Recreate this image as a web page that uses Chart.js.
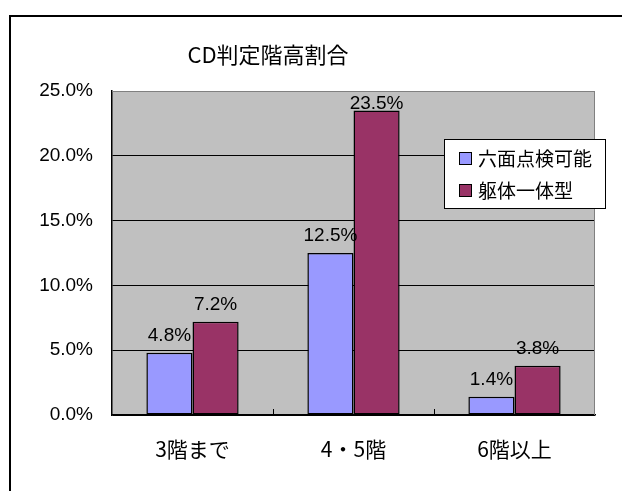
<!DOCTYPE html>
<html>
<head>
<meta charset="utf-8">
<script src="https://cdn.jsdelivr.net/npm/chart.js@4.4.1/dist/chart.umd.min.js"></script>
<style>
  html, body { margin: 0; padding: 0; background: #fff; overflow: hidden; }
  canvas { display: block; }
</style>
</head>
<body>
<canvas id="c" width="622" height="491"></canvas>
<script>
// ---- data ----
const chartTitle = 'CD判定階高割合';
const categories = ['3階まで', '4・5階', '6階以上'];
const seriesNames = ['六面点検可能', '躯体一体型'];
const seriesA = [4.8, 12.5, 1.4];   // 六面点検可能 (%)
const seriesB = [7.2, 23.5, 3.8];   // 躯体一体型 (%)
const yTicks = [0, 5, 10, 15, 20, 25];

const numFont = "'Liberation Sans', Arial, sans-serif";
const cjkFont = "'Noto Sans CJK JP', 'Noto Sans', sans-serif";
const colors = ['#9999FF', '#993366'];

const chromePlugin = {
  id: 'chrome',
  beforeDraw(chart) {
    const { ctx, chartArea: a } = chart;
    ctx.save();
    ctx.fillStyle = '#C0C0C0';
    ctx.fillRect(a.left, a.top, a.right - a.left, a.bottom - a.top);
    ctx.restore();
  },
  afterDatasetsDraw(chart) {
    const { ctx, chartArea: a } = chart;
    ctx.save();
    // plot border top / right
    ctx.strokeStyle = '#808080';
    ctx.lineWidth = 1;
    ctx.beginPath();
    ctx.moveTo(a.left, a.top + 0.5);
    ctx.lineTo(a.right - 0.5, a.top + 0.5);
    ctx.lineTo(a.right - 0.5, a.bottom);
    ctx.stroke();
    // inside tick marks on category axis
    const xs = chart.scales.x;
    const n = categories.length;
    ctx.strokeStyle = '#000';
    ctx.beginPath();
    for (let i = 1; i < n; i++) {
      const px = Math.round((xs.getPixelForValue(i - 1) + xs.getPixelForValue(i)) / 2) + 0.5;
      ctx.moveTo(px, a.bottom);
      ctx.lineTo(px, a.bottom - 6);
    }
    ctx.stroke();
    // data labels
    ctx.fillStyle = '#000';
    ctx.font = '19px ' + numFont;
    ctx.textAlign = 'center';
    ctx.textBaseline = 'alphabetic';
    chart.data.datasets.forEach((ds, di) => {
      const meta = chart.getDatasetMeta(di);
      meta.data.forEach((bar, i) => {
        let base = bar.y - 12;
        base = Math.max(base, a.top + 18);
        ctx.fillText(ds.data[i].toFixed(1) + '%', bar.x, base);
      });
    });
    ctx.restore();
  },
  afterDraw(chart) {
    const { ctx } = chart;
    ctx.save();
    // outer border (left/top visible)
    ctx.strokeStyle = '#000';
    ctx.lineWidth = 2;
    ctx.strokeRect(10, 16, 700, 600);
    // title
    ctx.fillStyle = '#000';
    ctx.font = '22px ' + cjkFont;
    ctx.textAlign = 'center';
    ctx.textBaseline = 'middle';
    ctx.fillText(chartTitle, 268, 55);
    // legend
    const lx = 444, ly = 139, lw = 162, lh = 70;
    ctx.fillStyle = '#fff';
    ctx.fillRect(lx, ly, lw, lh);
    ctx.strokeStyle = '#000';
    ctx.lineWidth = 1;
    ctx.strokeRect(lx + 0.5, ly + 0.5, lw - 1, lh - 1);
    ctx.font = '19px ' + cjkFont;
    ctx.textAlign = 'left';
    ctx.textBaseline = 'middle';
    chart.data.datasets.forEach((ds, i) => {
      const cy = ly + 19 + i * 32;
      ctx.fillStyle = ds.backgroundColor;
      ctx.fillRect(lx + 15, cy - 6, 13, 13);
      ctx.strokeStyle = '#000';
      ctx.strokeRect(lx + 15.5, cy - 5.5, 12, 12);
      ctx.fillStyle = '#000';
      ctx.fillText(ds.label, lx + 34, cy + 1);
    });
    ctx.restore();
  }
};

new Chart(document.getElementById('c'), {
  type: 'bar',
  data: {
    labels: categories,
    datasets: [
      { label: seriesNames[0], data: seriesA, backgroundColor: colors[0], borderColor: '#000', borderWidth: 1.5, borderSkipped: false },
      { label: seriesNames[1], data: seriesB, backgroundColor: colors[1], borderColor: '#000', borderWidth: 1.5, borderSkipped: false }
    ]
  },
  options: {
    responsive: false,
    animation: false,
    devicePixelRatio: 1,
    layout: { padding: { top: 91, right: 27, bottom: 0, left: 0 } },
    datasets: { bar: { categoryPercentage: 0.573, barPercentage: 1.0 } },
    plugins: {
      legend: { display: false },
      title: { display: false },
      tooltip: { enabled: false }
    },
    scales: {
      x: {
        grid: { display: false, drawTicks: false },
        border: { display: true, color: '#000', width: 1.5 },
        ticks: { color: '#000', font: { family: cjkFont, size: 21 }, padding: 21 },
        afterFit(s) { s.height = 76; }
      },
      y: {
        min: 0, max: 25,
        afterBuildTicks(s) { s.ticks = yTicks.map(v => ({ value: v })); },
        grid: {
          color: ctx => (ctx.tick && ctx.tick.value === 25) ? '#808080' : '#000',
          lineWidth: 1,
          drawTicks: false
        },
        border: { display: true, color: '#000', width: 1.5 },
        ticks: {
          color: '#000',
          font: { family: numFont, size: 19 },
          padding: 19,
          callback: v => Number(v).toFixed(1) + '%'
        },
        afterFit(s) { s.width = 112; }
      }
    }
  },
  plugins: [chromePlugin]
});
</script>
</body>
</html>
